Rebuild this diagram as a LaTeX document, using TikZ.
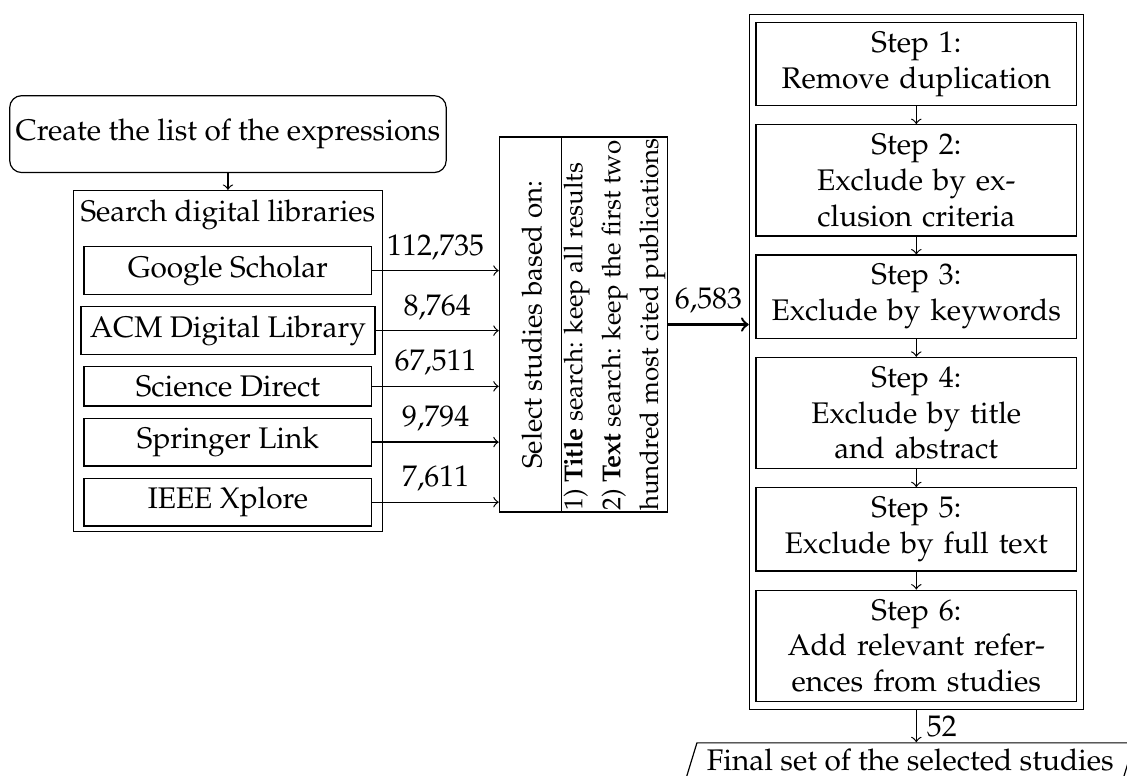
\documentclass[tikz,border=0pt]{standalone}
\usepackage[T1]{fontenc}
\usepackage{mathpazo}
\usepackage{tikz}
\usetikzlibrary{positioning, fit, shapes.multipart, shapes.geometric}

\begin{document}
\begin{tikzpicture}[
    libbox/.style={draw, rectangle, minimum width=96.6pt, inner sep=3pt},
    stepbox/.style={draw, rectangle, text width=101pt, align=center, inner ysep=3.1pt},
    node distance=3.7pt]
  \useasboundingbox (0,0) rectangle (378.2pt,-260.4pt);
  \clip (0,0) rectangle (378.2pt,-260.4pt);

  \node[draw, rounded corners, minimum width=145.6pt, minimum height=25.8pt, inner xsep=2pt] (create) at (76.5pt,-45pt) {Create the list of the expressions};

  % digital libraries
  \node[libbox] (google) at (76.5pt,-90.8pt) {Google Scholar};
  \node[libbox, below=of google] (acm) {ACM Digital Library};
  \node[libbox, below=of acm] (science) {Science Direct};
  \node[libbox, below=of science] (springer) {Springer Link};
  \node[libbox, below=of springer] (ieee) {IEEE Xplore};
  \node[above=of google, inner xsep=0pt, inner ysep=1.5pt] (searchtitle) {Search digital libraries};
  \node[draw, fit=(searchtitle.north)(google)(ieee), inner xsep=3.4pt, inner ysep=1.5pt] (search) {};
  \draw[->] (create) -- (search);

  % selection
  \node[draw, rectangle split, rectangle split parts=2, rotate=90, align=left,
        inner xsep=0.4pt, inner ysep=0.5pt, font=\fontsize{8.7}{12.7}\selectfont] (select) at (195.8pt,-108.9pt)
    {\fontsize{9.3}{12.7}\selectfont\rule[-6pt]{0pt}{19.5pt}Select studies based on:
     \nodepart{two}1) \textbf{Title} search: keep all results\\
     2) \textbf{Text} search: keep the first two\\
     hundred most cited publications};

  \draw[->] (google.east) -- (google.east -| select.north) node[midway, above] {112,735};
  \draw[->] (acm.east) -- (acm.east -| select.north) node[midway, above] {8,764};
  \draw[->] (science.east) -- (science.east -| select.north) node[midway, above] {67,511};
  \draw[->] (springer.east) -- (springer.east -| select.north) node[midway, above] {9,794};
  \draw[->] (ieee.east) -- (ieee.east -| select.north) node[midway, above] {7,611};

  % filtering steps
  \node[stepbox, anchor=north] (step1) at (307.5pt,-7.3pt) {Step 1:\\ Remove duplication};
  \node[stepbox, below=6pt of step1] (step2) {Step 2:\\ Exclude by ex-\\ clusion criteria};
  \node[stepbox, below=6pt of step2] (step3) {Step 3:\\ Exclude by keywords};
  \node[stepbox, below=6pt of step3] (step4) {Step 4:\\ Exclude by title\\ and abstract};
  \node[stepbox, below=6pt of step4] (step5) {Step 5:\\ Exclude by full text};
  \node[stepbox, below=6pt of step5] (step6) {Step 6:\\ Add relevant refer-\\ ences from studies};
  \node[draw, fit=(step1)(step6), inner xsep=2pt, inner ysep=2.5pt] (steps) {};

  \draw[->] (step1) -- (step2);
  \draw[->] (step2) -- (step3);
  \draw[->] (step3) -- (step4);
  \draw[->] (step4) -- (step5);
  \draw[->] (step5) -- (step6);

  \draw[->, thick] (select.south) -- (select.south -| steps.west) node[midway, above] {6,583};

  \node[draw, trapezium, trapezium left angle=73, trapezium right angle=107, inner ysep=2pt,
        below=10.8pt of steps, xshift=-2pt] (final) {Final set of the selected studies};
  \draw[->] (steps.south) -- (steps.south |- final.north) node[midway, right] {52};
\end{tikzpicture}
\end{document}
